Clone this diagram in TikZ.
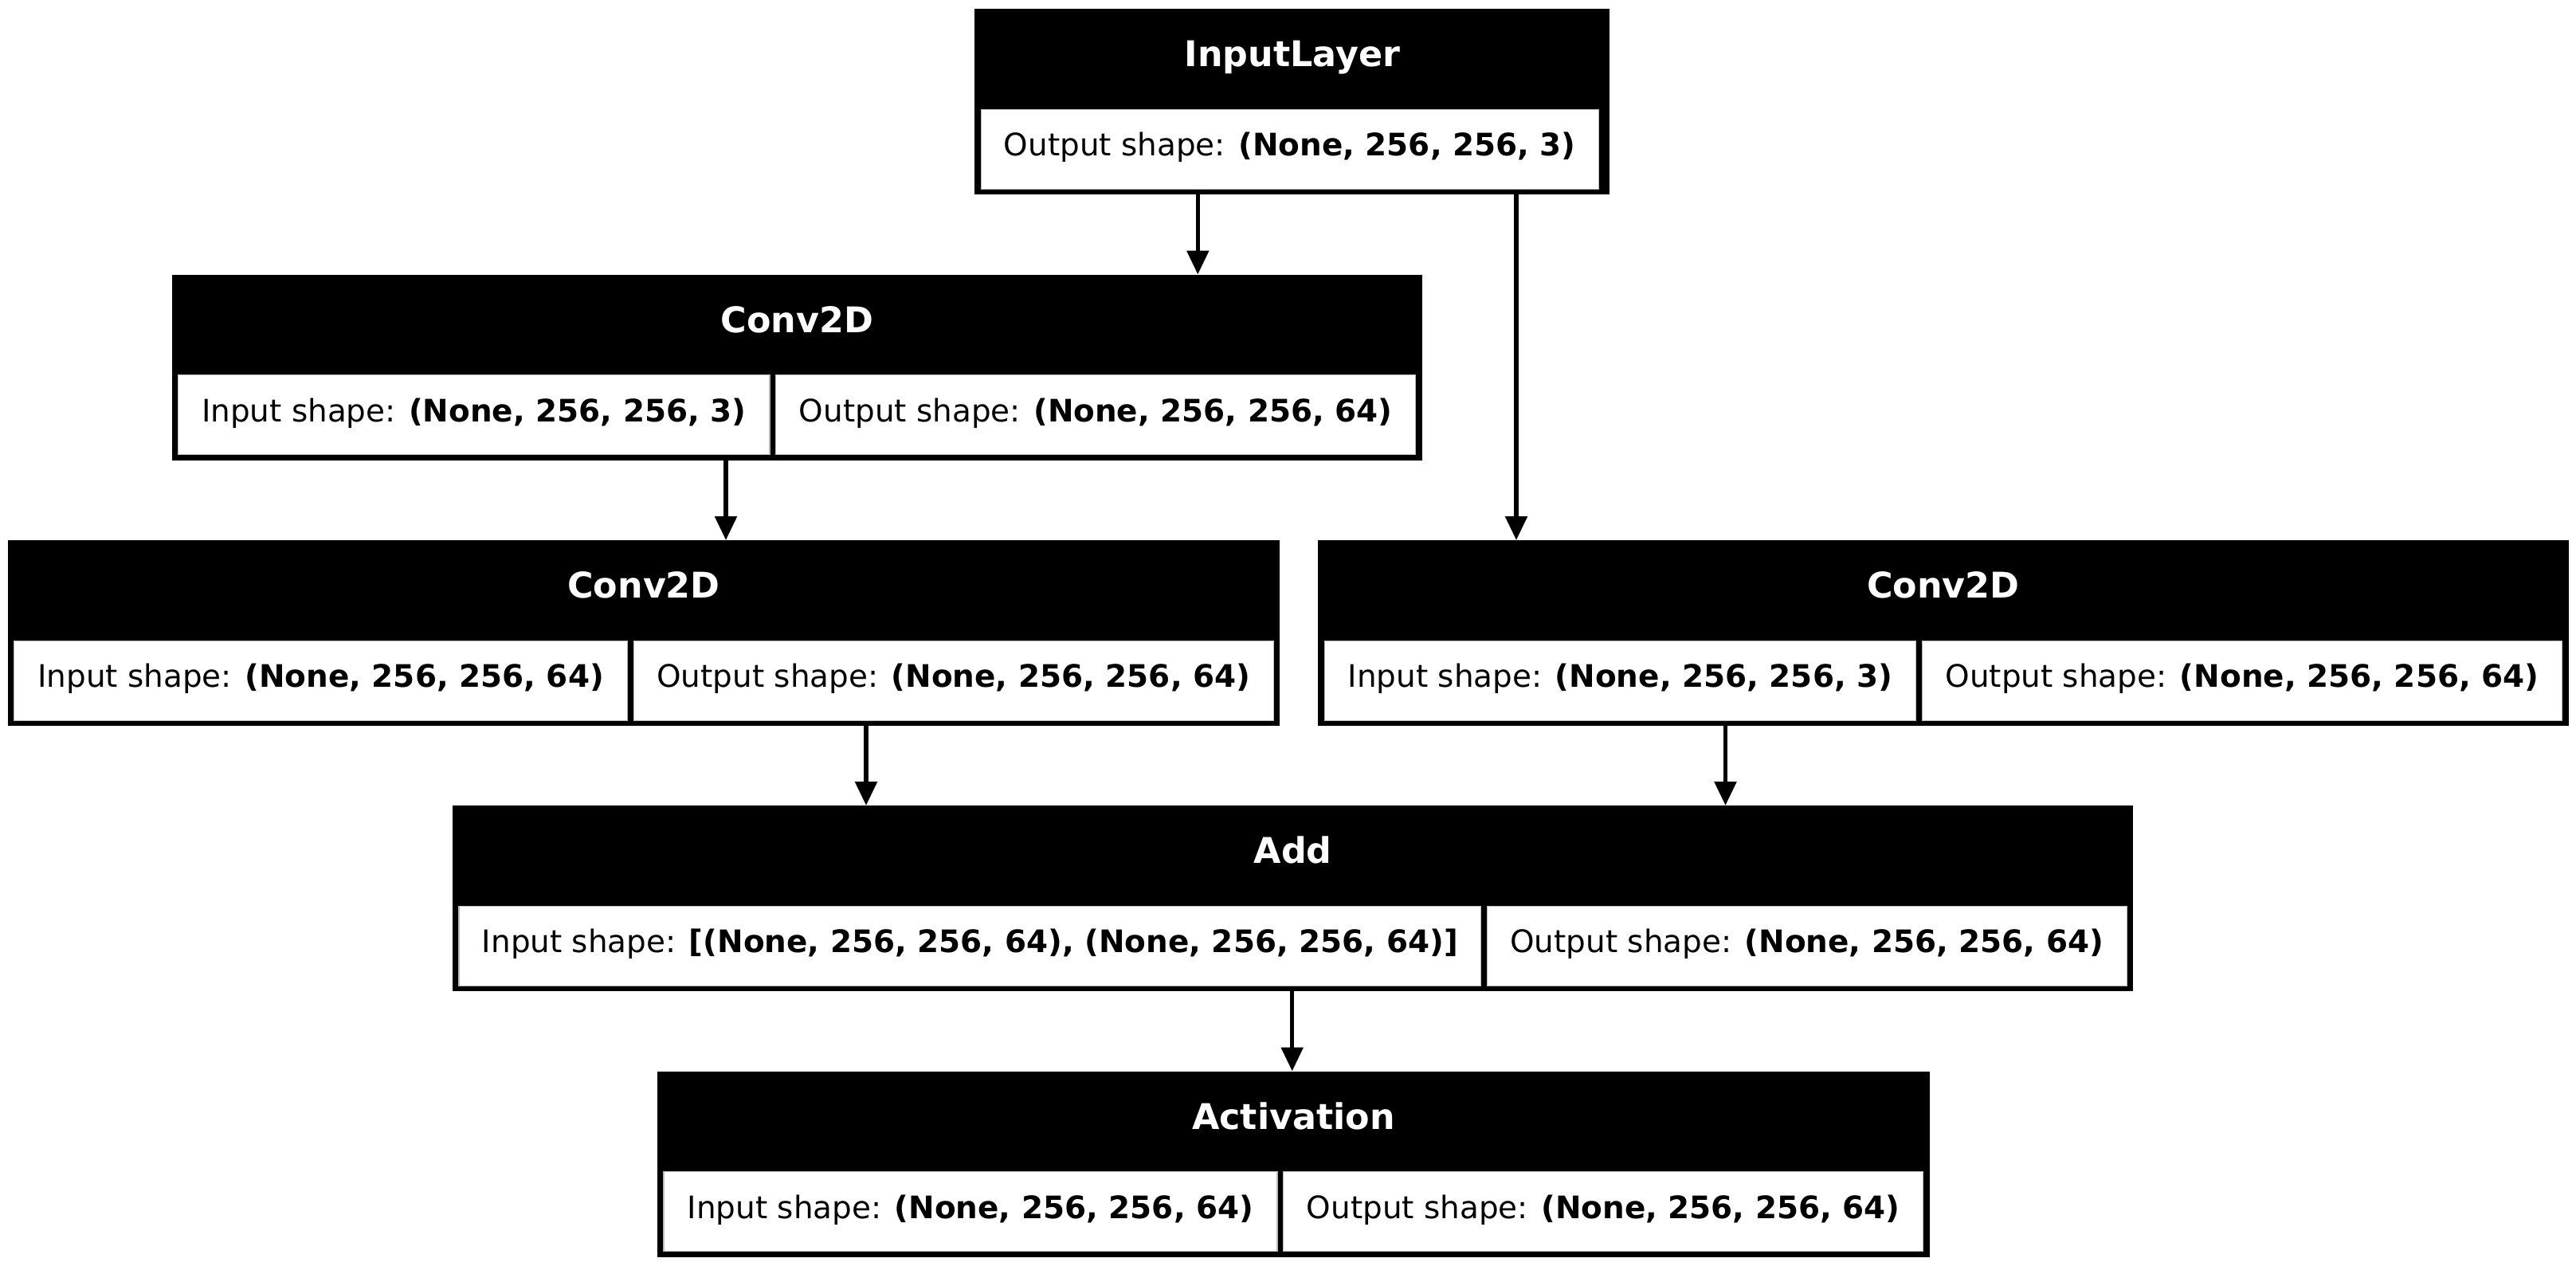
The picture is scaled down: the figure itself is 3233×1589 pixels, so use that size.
\documentclass[tikz,border=0pt]{standalone}
\usepackage{fontspec}
\setmainfont{DejaVu Sans}
\usetikzlibrary{arrows.meta}
\newcommand\hdfont{\fontsize{44.4}{52}\selectfont\bfseries}
\newcommand\clfont{\fontsize{38.9}{46}\selectfont}
\tikzset{
  layer/.style={rectangle, fill=black, draw=none, inner sep=0pt, outer sep=0pt, anchor=north west, minimum height=233pt},
  head/.style={rectangle, inner sep=0pt, outer sep=0pt, anchor=north, minimum height=126.3pt, text=white, font=\hdfont, text height=34pt, text depth=15.3pt},
  cell/.style={rectangle, fill=white, draw=gray!55, line width=1.2pt, inner sep=0pt, outer sep=0pt, anchor=north west, minimum height=100pt, font=\clfont, text height=30pt, text depth=13.6pt},
  arr/.style={line width=5.5pt, -{Triangle[length=30pt,width=27pt]}}
}
\begin{document}
\begin{tikzpicture}[x=1pt,y=-1pt]
\useasboundingbox (0,0) rectangle (3233,1589);
% Row 0: InputLayer
\node[layer, minimum width=797pt] (in) at (1223.3,11) {};
\node[head] (inH) at (1622,11) {InputLayer};
\node[cell, minimum width=775pt] (inO) at (1231.3,137.3) {Output shape: \textbf{(None, 256, 256, 3)}};
% Row 1: Conv2D
\node[layer, minimum width=1569.2pt] (c1) at (215.6,344.5) {};
\node[head] (c1H) at (1000.2,344.5) {Conv2D};
\node[cell, minimum width=742.4pt] (c1I) at (223.6,470.8) {Input shape: \textbf{(None, 256, 256, 3)}};
\node[cell, minimum width=803.2pt] (c1O) at (973.6,470.8) {Output shape: \textbf{(None, 256, 256, 64)}};
% Row 2: Conv2D (left)
\node[layer, minimum width=1596.8pt] (c2) at (9.6,678) {};
\node[head] (c2H) at (808,678) {Conv2D};
\node[cell, minimum width=770pt] (c2I) at (17.6,804.3) {Input shape: \textbf{(None, 256, 256, 64)}};
\node[cell, minimum width=803.2pt] (c2O) at (795.2,804.3) {Output shape: \textbf{(None, 256, 256, 64)}};
% Row 2: Conv2D (right)
\node[layer, minimum width=1569.2pt] (c3) at (1654.3,678) {};
\node[head] (c3H) at (2438.9,678) {Conv2D};
\node[cell, minimum width=742.4pt] (c3I) at (1662.3,804.3) {Input shape: \textbf{(None, 256, 256, 3)}};
\node[cell, minimum width=803.2pt] (c3O) at (2412.3,804.3) {Output shape: \textbf{(None, 256, 256, 64)}};
% Row 3: Add
\node[layer, minimum width=2109.3pt] (add) at (568,1011) {};
\node[head] (addH) at (1622.65,1011) {Add};
\node[cell, minimum width=1282.5pt] (addI) at (576,1137.3) {Input shape: \textbf{[(None, 256, 256, 64), (None, 256, 256, 64)]}};
\node[cell, minimum width=803.2pt] (addO) at (1866.1,1137.3) {Output shape: \textbf{(None, 256, 256, 64)}};
% Row 4: Activation
\node[layer, minimum width=1596.8pt] (act) at (825,1344.5) {};
\node[head] (actH) at (1623.4,1344.5) {Activation};
\node[cell, minimum width=770pt] (actI) at (833,1470.8) {Input shape: \textbf{(None, 256, 256, 64)}};
\node[cell, minimum width=803.2pt] (actO) at (1610.6,1470.8) {Output shape: \textbf{(None, 256, 256, 64)}};
% arrow columns
\coordinate (a1) at (1503.3,0);
\coordinate (a2) at (1903,0);
\coordinate (a3) at (911,0);
\coordinate (a4) at (1087,0);
\coordinate (a5) at (2165.5,0);
\coordinate (a6) at (1621.7,0);
% connectors
\draw[arr] (in.south -| a1) -- (c1.north -| a1);
\draw[arr] (in.south -| a2) -- (c3.north -| a2);
\draw[arr] (c1.south -| a3) -- (c2.north -| a3);
\draw[arr] (c2.south -| a4) -- (add.north -| a4);
\draw[arr] (c3.south -| a5) -- (add.north -| a5);
\draw[arr] (add.south -| a6) -- (act.north -| a6);
\end{tikzpicture}
\end{document}
